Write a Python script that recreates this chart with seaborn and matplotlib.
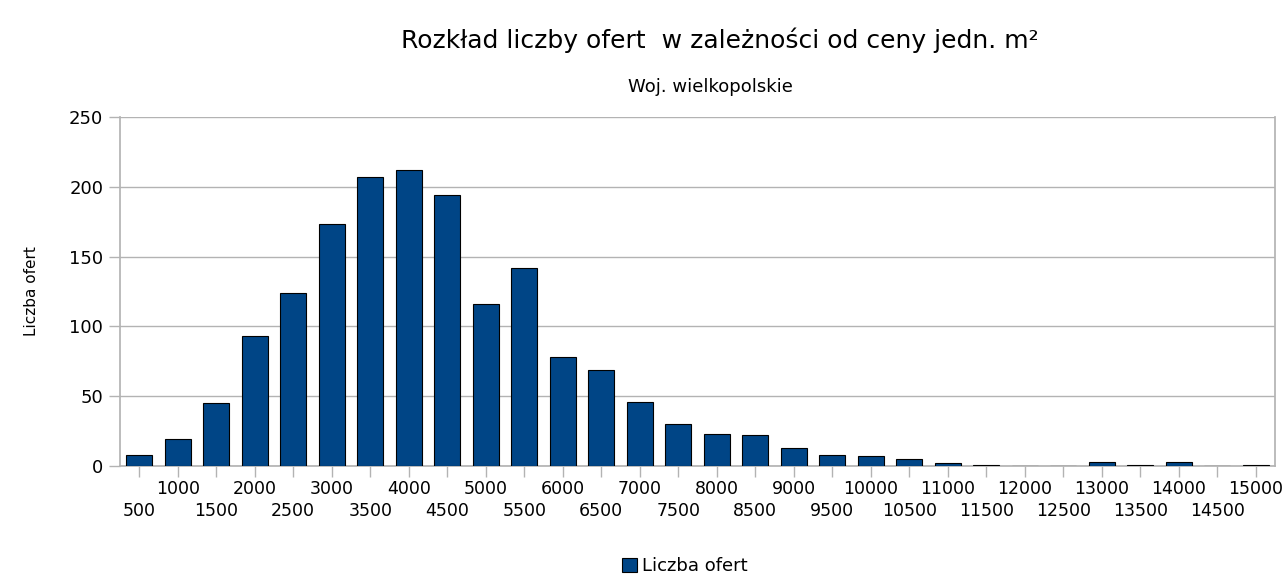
import matplotlib
matplotlib.use("Agg")
import matplotlib.pyplot as plt
import numpy as np
import pandas as pd
import seaborn as sns

# ceny jedn. m2 (przedziały) i liczba ofert
ceny = list(range(500, 15001, 500))
liczba_ofert = [8, 19, 45, 93, 124, 173, 207, 212, 194, 116,
                142, 78, 69, 46, 30, 23, 22, 13, 8, 7,
                5, 2, 1, 0, 0, 3, 1, 3, 0, 1]

df = pd.DataFrame({"cena": [str(c) for c in ceny], "oferty": liczba_ofert})

sns.set_theme(style="white")
plt.rcParams['font.family'] = ['DejaVu Sans']
plt.rcParams['text.color'] = 'black'
plt.rcParams['axes.labelcolor'] = 'black'
plt.rcParams['xtick.color'] = 'black'
plt.rcParams['ytick.color'] = 'black'

fig = plt.figure(figsize=(12.85, 5.77), dpi=100)
ax = fig.add_axes([120 / 1285, 1 - 466 / 577, 1155 / 1285, 349 / 577])

sns.barplot(data=df, x="cena", y="oferty", color="#004586", saturation=1,
            width=0.68, edgecolor="black", linewidth=0.8, ax=ax,
            label="Liczba ofert", zorder=3)

ax.set_xlim(-0.5, len(ceny) - 0.5)
ax.set_ylim(0, 250)
ax.set_yticks(range(0, 251, 50))
ax.yaxis.grid(True, color="#b3b3b3", linewidth=1, zorder=0)

# etykiety osi X naprzemiennie w dwóch rzędach: dolny (major), górny (minor)
idx = np.arange(len(ceny))
ax.set_xticks(idx[0::2])
ax.set_xticklabels([str(c) for c in ceny[0::2]], fontsize=12.5)
ax.set_xticks(idx[1::2], minor=True)
ax.set_xticklabels([str(c) for c in ceny[1::2]], minor=True, fontsize=12.5)
ax.tick_params(axis="x", which="major", length=8, color="#b3b3b3", width=1,
               pad=18, direction="out", bottom=True)
ax.tick_params(axis="x", which="minor", length=8, color="#b3b3b3", width=1,
               pad=2, direction="out", bottom=True)
ax.tick_params(axis="y", length=8, color="#b3b3b3", width=1, labelsize=13,
               pad=4, left=True)

for s in ax.spines.values():
    s.set_color("#b3b3b3")
ax.spines["top"].set_visible(False)

ax.set_xlabel("")
ax.set_ylabel("Liczba ofert", fontsize=11, labelpad=22)

fig.text(720 / 1285, 1 - 40 / 577, "Rozkład liczby ofert  w zależności od ceny jedn. m²",
         ha="center", va="center", fontsize=18)
fig.text(710 / 1285, 1 - 87 / 577, "Woj. wielkopolskie", ha="center", va="center", fontsize=13)

ax.legend(loc="center", bbox_to_anchor=(685 / 1285, 1 - 566 / 577),
          bbox_transform=fig.transFigure, frameon=False, fontsize=13,
          handlelength=0.8, handleheight=0.8, handletextpad=0.3)

fig.savefig("out.png", dpi=100)
